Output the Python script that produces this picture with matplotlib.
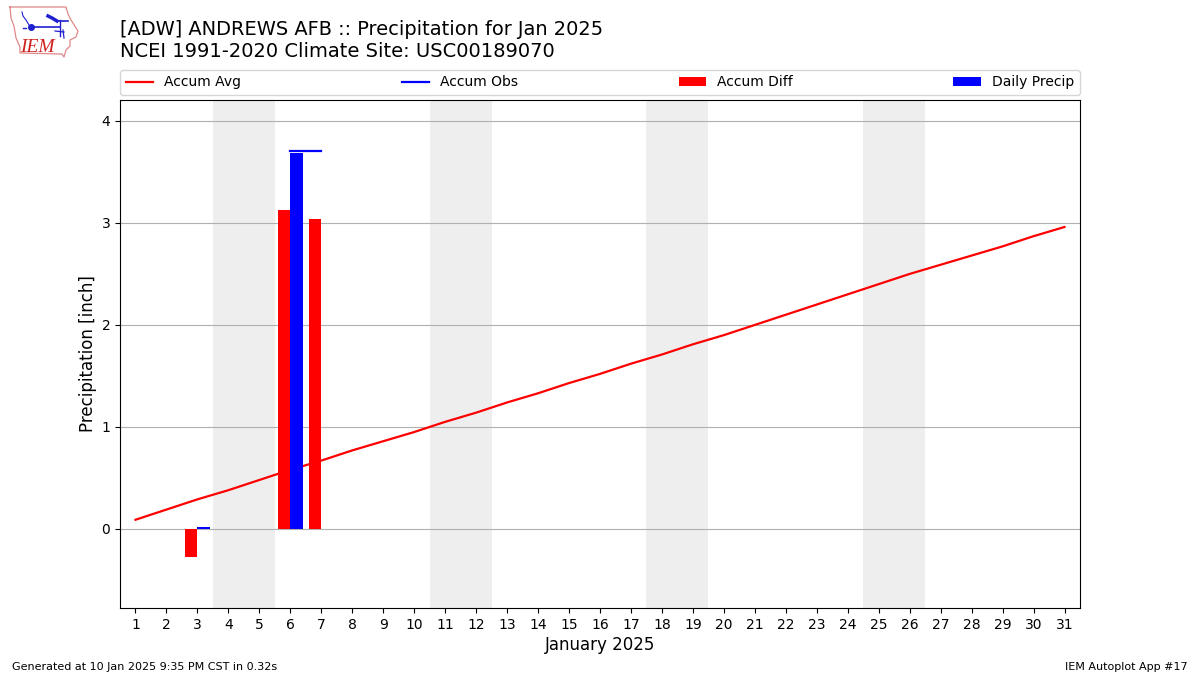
import matplotlib
matplotlib.use("Agg")
import matplotlib.pyplot as plt
from matplotlib.lines import Line2D
import numpy as np

days = list(range(1, 32))
accum_avg = [0.09, 0.19, 0.29, 0.38, 0.48, 0.58, 0.67, 0.77, 0.86, 0.95, 1.05,
             1.14, 1.24, 1.33, 1.43, 1.52, 1.62, 1.71, 1.81, 1.90, 2.00, 2.10,
             2.20, 2.30, 2.40, 2.50, 2.59, 2.68, 2.77, 2.87, 2.96]
obs_days = [6, 7]
accum_obs = [3.705, 3.705]
diff_days = [3, 6, 7]
accum_diff = [-0.275, 3.13, 3.04]
precip_days = [3, 6]
daily_precip = [0.02, 3.69]
weekends = [(3.5, 5.5), (10.5, 12.5), (17.5, 19.5), (24.5, 26.5)]

W, H = 1200, 675
fig = plt.figure(figsize=(W / 100, H / 100), dpi=100)
ax = fig.add_axes([120 / W, 1 - 608 / H, 960 / W, 508 / H])

for a, b in weekends:
    ax.axvspan(a, b, color="#eeeeee", lw=0, zorder=0)
ax.plot(days, accum_avg, color="r", lw=1.6, label="Accum Avg", zorder=3)
ax.plot(obs_days, accum_obs, color="b", lw=1.6, label="Accum Obs", zorder=3)
ax.bar(diff_days, accum_diff, width=-0.4, align="edge", color="r", label="Accum Diff", zorder=4)
ax.bar(precip_days, daily_precip, width=0.4, align="edge", color="b", label="Daily Precip", zorder=4)

ax.set_xlim(0.5, 31.5)
ax.set_ylim(-0.775, 4.205)
ax.set_xticks(days)
ax.set_yticks([0, 1, 2, 3, 4])
ax.tick_params(labelsize=10)
ax.yaxis.grid(True, color="#b0b0b0", lw=0.8)
ax.set_axisbelow(True)
ax.set_xlabel("January 2025", fontsize=12, labelpad=3)
ax.set_ylabel("Precipitation [inch]", fontsize=12, labelpad=3)
ax.legend(loc="lower left", bbox_to_anchor=(0, 1 + 5 / 508, 1, 25 / 508), ncol=4, mode="expand",
          fontsize=10, borderaxespad=0)

fig.text(120 / W, 1 - 35 / H, "[ADW] ANDREWS AFB :: Precipitation for Jan 2025", fontsize=13.98, va="baseline")
fig.text(120 / W, 1 - 57 / H, "NCEI 1991-2020 Climate Site: USC00189070", fontsize=14, va="baseline")
fig.text(12 / W, 1 - 670 / H, "Generated at 10 Jan 2025 9:35 PM CST in 0.32s", fontsize=8, va="baseline")
fig.text(1188 / W, 1 - 670 / H, "IEM Autoplot App #17", fontsize=8, ha="right", va="baseline")

# Iowa-outline logo, placed in figure pixels
def px(xs, ys):
    return [x / W for x in xs], [1 - y / H for y in ys]

ox, oy = px([10, 66, 68, 71, 78, 76, 70, 70, 66, 64, 62, 20, 20, 16, 14, 11, 10],
            [7, 7, 14, 20, 31, 37, 40, 46, 50, 57, 54, 53, 47, 38, 26, 18, 7])
fig.add_artist(Line2D(ox, oy, color="#e08888", lw=0.9))
for xs, ys, lw in [([31, 60], [27, 27], 1.2), ([60, 60], [20, 36], 1.0), ([56, 68], [21, 21], 1.2),
                   ([22, 23, 26, 29], [12, 16, 20, 25], 0.8), ([55, 64], [31, 32], 0.9), ([63, 64], [30, 38], 0.9),
                   ([23, 26], [28, 28], 1.0)]:
    lx, ly = px(xs, ys)
    fig.add_artist(Line2D(lx, ly, color="#2020d0", lw=lw))
mx, my = px([31], [27])
fig.add_artist(Line2D(mx, my, color="#2020d0", marker="o", ms=4, lw=0))
mx, my = px([48, 52, 57], [16, 18, 21])
fig.add_artist(Line2D(mx, my, color="#2020d0", lw=2.5))
fig.text(20 / W, 1 - 52 / H, "IEM", fontsize=14, family="Liberation Serif", style="italic", color="#d02020", va="baseline")

fig.savefig("out.png", dpi=100)
